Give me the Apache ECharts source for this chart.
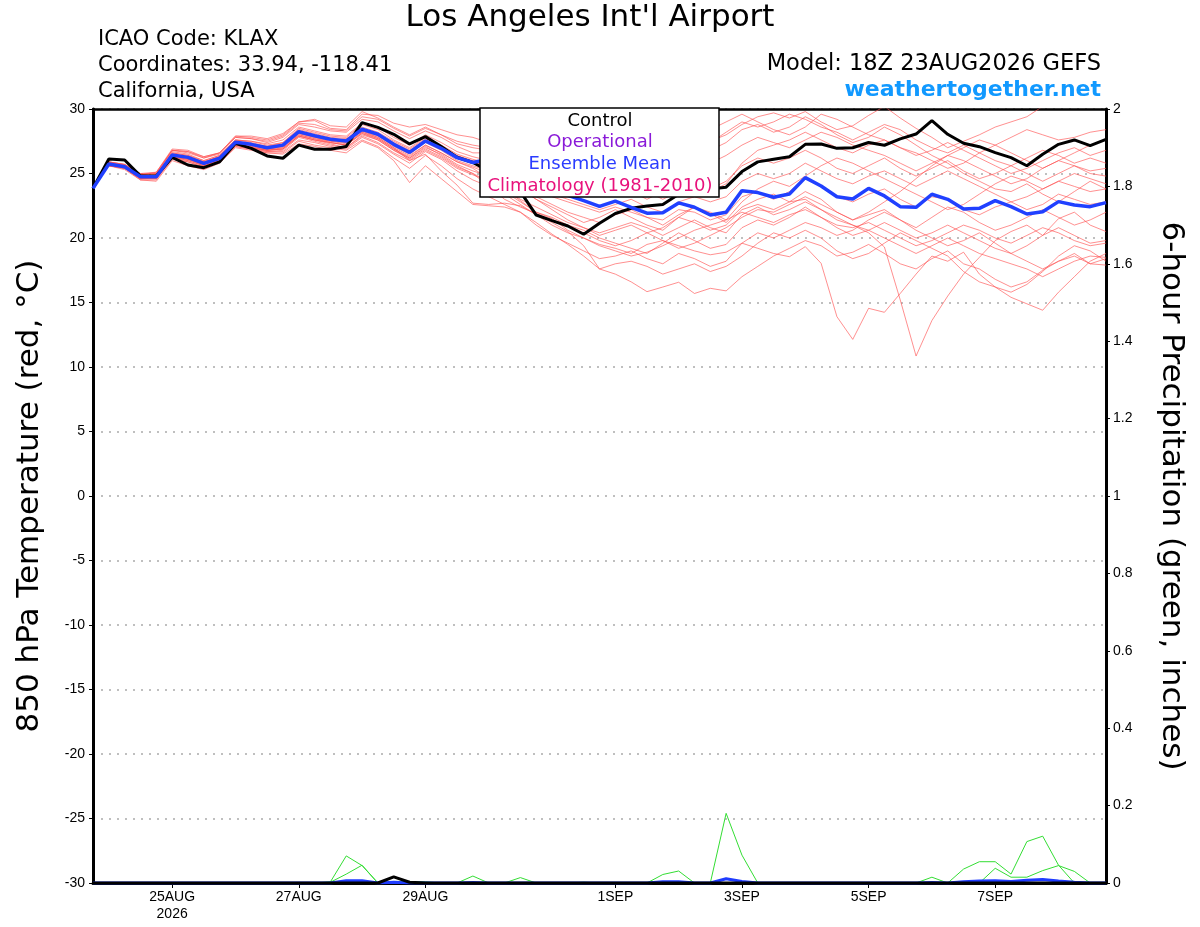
<!DOCTYPE html>
<html><head><meta charset="utf-8">
<script src="https://cdn.jsdelivr.net/npm/echarts@6/dist/echarts.min.js"></script>
<style>html,body{margin:0;padding:0;background:#fff}#c{width:1200px;height:927px}</style>
</head><body><div id="c"></div>
<script>
// time steps: 6-hourly from 18Z 23AUG2026 (index 0) to 18Z 08SEP2026 (index 64)
const tickIdx = [5, 13, 21, 33, 41, 49, 57];
const tickLabels = ['25AUG\n2026', '27AUG', '29AUG', '1SEP', '3SEP', '5SEP', '7SEP'];
const tempTicks = [-30, 30, 5];
const precipTicks = [0, 2, 0.2];

const control = [23.85,26.12,26.05,24.8,24.8,26.25,25.66,25.45,25.9,27.34,
 26.95,26.36,26.18,27.2,26.88,26.88,27.1,28.94,28.58,28.04,
 27.29,27.86,27.09,26.26,25.85,25.2,24.5,23.6,21.78,21.35,
 20.93,20.29,21.14,21.9,22.3,22.48,22.6,23.4,23.6,23.8,
 23.94,25.15,25.9,26.1,26.3,27.26,27.29,26.95,27.0,27.4,
 27.19,27.68,28.06,29.1,28.04,27.34,27.08,26.62,26.23,25.6,
 26.49,27.26,27.6,27.16,27.65];

const ensMean = [23.85,25.74,25.53,24.75,24.75,26.43,26.25,25.79,26.18,27.42,
 27.26,27.0,27.2,28.24,27.93,27.65,27.52,28.43,28.04,27.26,
 26.64,27.52,26.95,26.23,25.85,26.1,25.5,24.9,24.3,23.8,
 23.3,22.9,22.45,22.86,22.38,21.92,21.95,22.72,22.38,21.78,
 22.0,23.67,23.52,23.16,23.41,24.68,24.03,23.2,23.02,23.85,
 23.26,22.43,22.38,23.39,23.0,22.25,22.3,22.9,22.43,21.86,
 22.04,22.82,22.56,22.43,22.74];

const m01 = [23.9,25.8,25.6,24.9,25.0,26.8,26.6,26.2,26.6,27.9,27.8,27.6,28.0,29.0,29.1,28.5,28.4,29.6,29.5,28.9,28.6,28.8,28.4,28.0,27.8,
 27.4,27.0,26.5,26.8,27.2,26.9,26.5,26.0,26.4,26.8,27.2,26.5,26.0,26.8,27.5,28.0,28.8,29.4,29.7,29.3,
 29.8,29.0,28.4,28.7,29.5,30.2,29.3,28.5,27.8,27.0,27.5,28.0,28.6,29.0,29.4,30.2,30.8,31.0,30.5,30.8];
const m02 = [23.9,25.6,25.4,24.6,24.6,26.2,26.0,25.6,26.0,27.2,27.0,26.8,26.9,27.9,27.6,27.3,27.0,28.0,27.6,26.8,26.2,27.0,26.5,25.7,25.2,
 24.8,24.4,23.8,23.2,22.6,22.0,21.6,21.2,21.8,22.2,21.6,21.0,21.8,22.4,21.9,21.2,22.4,23.0,23.4,22.8,
 23.0,22.2,21.4,21.0,20.4,19.3,15.2,10.85,13.6,15.5,17.2,18.5,19.8,20.5,21.0,20.2,21.5,22.0,21.0,20.5];
const m03 = [23.9,25.7,25.5,24.7,24.8,26.4,26.2,25.7,26.1,27.3,27.1,26.9,27.0,28.0,27.7,27.5,27.3,28.2,27.8,27.0,26.4,27.2,26.6,25.9,25.4,
 24.6,23.8,22.9,22.0,21.5,20.6,20.0,19.5,19.2,18.8,19.5,19.8,19.4,19.0,18.7,18.9,19.6,19.2,18.8,18.55,
 19.33,18.04,13.9,12.14,14.55,14.24,15.7,17.2,18.6,18.2,18.9,17.2,16.2,15.4,14.9,14.4,15.8,17.0,18.2,18.8];
const m04 = [23.9,25.6,25.3,24.5,24.4,26.0,25.6,25.3,25.8,27.0,26.8,26.6,26.5,27.3,27.1,26.8,26.6,27.5,27.0,26.0,24.3,25.6,24.6,23.6,22.6,
 22.5,22.4,22.0,21.2,20.3,19.5,18.6,17.6,17.2,16.6,15.84,16.2,16.57,15.7,16.1,15.9,17.0,17.8,18.6,19.2,
 19.8,19.4,18.6,18.9,19.5,18.8,18.0,17.6,18.4,19.0,18.0,17.6,16.8,16.2,16.6,17.5,18.2,18.8,18.0,17.9];
const m05 = [23.9,25.8,25.6,24.8,24.9,26.5,26.3,25.9,26.3,27.4,27.2,26.9,27.1,28.1,27.8,27.5,27.4,28.3,27.8,27.0,26.0,26.5,25.2,24.1,22.7,
 22.6,22.7,22.5,21.8,21.2,20.5,19.4,17.6,18.0,18.2,17.8,17.2,17.6,18.0,17.4,17.8,18.6,19.6,20.4,20.0,
 20.6,20.0,19.0,18.4,18.8,19.6,20.4,19.8,19.2,18.6,17.4,16.6,16.2,15.8,16.4,17.4,18.6,19.4,19.0,18.2];
const m06 = [23.9,25.7,25.5,24.6,24.7,26.3,26.1,25.7,26.0,27.3,27.0,26.8,26.9,27.9,27.6,27.4,27.2,28.2,27.7,26.9,26.2,27.1,26.4,25.6,25.0,
 24.0,23.0,22.4,21.9,21.4,21.0,20.6,20.0,19.6,19.2,18.8,19.6,20.4,19.8,19.2,19.5,20.8,21.4,21.0,21.6,
 22.4,21.6,20.8,20.2,20.6,21.2,20.6,20.0,20.4,21.0,20.4,19.8,19.2,18.8,19.4,20.2,20.8,20.2,19.6,19.8];
const m07 = [23.9,25.9,25.7,24.9,25.0,26.7,26.5,26.0,26.4,27.6,27.5,27.3,27.6,28.6,28.3,28.0,27.9,28.9,28.6,27.8,27.2,28.0,27.4,26.7,26.3,
 26.0,25.6,25.0,25.4,25.8,25.2,24.8,24.4,25.0,25.6,26.0,25.4,24.8,25.2,25.8,26.4,27.2,27.8,27.4,27.0,
 27.6,28.2,27.8,27.2,26.8,26.4,25.8,25.2,25.8,26.4,26.0,25.4,24.8,24.2,24.6,25.4,26.0,25.6,25.0,24.8];
const m08 = [23.9,25.8,25.7,24.9,25.1,26.8,26.7,26.3,26.6,27.8,27.7,27.4,27.8,28.8,28.6,28.3,28.2,29.2,29.0,28.3,27.7,28.3,27.8,27.1,26.6,
 26.6,26.2,25.8,26.2,26.8,27.4,27.0,26.4,26.8,27.4,27.0,26.4,27.0,27.8,28.4,29.0,29.6,29.0,28.4,28.0,
 28.6,29.6,29.2,28.6,28.0,27.6,27.0,26.6,26.0,25.4,25.8,26.6,27.2,27.8,28.4,28.0,27.6,27.8,28.2,28.4];
const m09 = [23.9,25.7,25.5,24.7,24.8,26.5,26.3,25.8,26.2,27.5,27.3,27.0,27.2,28.3,28.0,27.7,27.6,28.5,28.1,27.3,26.7,27.6,27.0,26.3,25.9,
 25.6,25.0,24.4,23.8,23.2,22.8,22.4,22.0,22.4,22.0,21.6,21.4,22.2,22.0,21.4,21.8,23.2,23.6,23.0,23.6,
 24.6,24.0,23.2,22.8,23.4,23.8,23.0,22.4,23.2,23.0,22.2,21.8,22.4,22.8,22.2,22.6,23.4,23.0,22.6,22.8];
const m10 = [23.9,25.6,25.4,24.6,24.6,26.3,26.0,25.6,26.0,27.2,27.0,26.8,26.9,27.9,27.6,27.4,27.2,28.1,27.7,26.9,26.3,27.2,26.6,25.9,25.5,
 25.0,24.4,23.8,23.0,22.4,21.8,21.2,21.6,22.2,21.6,21.0,20.6,21.6,22.4,22.0,21.4,22.8,23.8,24.4,24.0,
 24.8,25.6,26.2,25.8,25.2,24.6,24.0,23.4,22.8,22.2,22.6,23.4,24.2,24.8,24.4,23.8,24.4,25.0,24.6,24.2];
const m11 = [23.9,25.8,25.6,24.8,24.7,26.4,26.2,25.8,26.2,27.4,27.2,26.9,27.1,28.1,27.8,27.6,27.4,28.3,27.9,27.1,26.5,27.4,26.8,26.0,25.6,
 25.2,24.6,23.8,23.0,22.2,21.4,20.8,20.2,20.6,21.0,20.4,20.8,21.6,21.2,20.6,21.0,22.2,22.6,22.2,22.8,
 23.6,23.0,22.0,21.4,21.8,22.2,21.4,20.6,20.0,19.4,19.8,20.4,19.6,18.8,18.2,17.6,18.2,18.6,18.0,18.4];
const m12 = [23.9,25.9,25.6,24.8,24.9,26.6,26.4,25.9,26.3,27.6,27.4,27.1,27.4,28.4,28.1,27.8,27.7,28.6,28.2,27.5,26.9,27.7,27.1,26.4,26.0,
 25.8,25.3,24.8,24.4,24.8,24.4,23.8,23.4,23.8,24.2,23.6,23.0,23.6,24.2,23.8,24.4,25.6,26.2,25.8,26.2,
 26.8,26.2,25.4,25.0,25.6,26.2,25.4,24.8,25.4,26.0,25.2,24.6,25.0,25.6,25.0,24.4,25.0,25.6,25.2,25.4];
const m13 = [23.9,25.7,25.4,24.6,24.7,26.3,26.1,25.6,26.0,27.2,27.0,26.7,26.8,27.8,27.5,27.2,27.0,27.9,27.4,26.6,26.0,26.8,26.2,25.4,24.9,
 24.4,23.6,22.8,22.0,21.6,21.0,20.4,19.8,19.4,19.8,20.4,19.8,19.2,19.6,20.2,20.8,21.6,22.2,22.0,22.6,
 23.2,22.6,22.0,21.4,22.0,22.8,23.6,24.6,25.6,26.4,27.0,27.6,27.2,26.6,26.0,25.4,26.0,26.6,27.2,27.6];
const m14 = [23.9,25.9,25.7,25.0,25.1,26.9,26.8,26.3,26.6,27.9,27.9,27.7,28.1,29.0,29.2,28.7,28.6,29.8,29.3,28.6,28.0,28.6,28.0,27.5,27.2,
 27.0,26.6,26.0,25.6,25.2,24.8,25.4,26.0,25.6,25.0,24.6,25.2,25.8,26.4,26.8,27.4,28.4,28.8,28.2,28.6,
 29.4,28.8,28.0,27.4,27.8,28.6,28.0,27.2,26.4,25.8,25.0,24.4,23.8,23.6,24.2,23.4,22.8,23.6,24.4,23.8];
const m15 = [23.9,25.6,25.4,24.5,24.5,26.1,25.9,25.5,25.9,27.1,26.9,26.7,26.7,27.6,27.4,27.1,26.9,27.8,27.3,26.5,25.8,26.7,26.1,25.2,24.5,
 24.0,23.4,22.6,21.8,21.0,20.4,20.0,19.4,19.0,18.6,18.9,19.4,20.0,20.6,21.0,21.4,22.0,21.6,21.2,21.8,
 22.2,21.6,21.0,20.8,21.2,20.6,20.0,19.4,19.8,20.4,21.0,20.6,20.0,19.6,20.2,20.8,20.4,19.8,19.4,19.6];
const m16 = [23.9,25.8,25.6,24.8,24.8,26.6,26.4,26.0,26.4,27.6,27.5,27.2,27.4,28.5,28.2,27.9,27.8,28.8,28.4,27.6,27.0,27.8,27.2,26.5,26.1,
 25.8,25.4,24.8,24.2,23.8,23.4,23.8,24.4,24.0,23.6,23.0,23.6,24.4,24.0,23.6,24.2,25.8,26.8,27.2,27.6,
 28.2,27.6,27.0,26.6,27.2,27.6,27.0,26.4,26.8,27.4,26.8,26.2,25.6,25.0,25.4,26.0,26.6,27.0,26.4,26.8];
const m17 = [23.9,25.7,25.5,24.6,24.6,26.2,25.9,25.5,25.9,27.1,26.9,26.6,26.6,27.5,27.2,27.0,26.8,27.6,27.1,26.2,25.4,26.4,25.6,24.6,23.8,
 23.2,22.6,22.0,21.0,20.2,19.6,19.0,18.4,18.6,19.0,18.4,18.0,18.8,18.4,17.8,18.2,19.6,20.4,20.0,20.6,
 21.2,20.8,20.2,20.6,21.4,22.0,21.4,20.8,21.6,22.4,22.0,21.2,20.6,21.0,21.6,22.2,21.6,21.0,21.4,22.0];
const m18 = [23.9,25.8,25.6,24.8,24.8,26.5,26.3,25.9,26.3,27.5,27.3,27.1,27.3,28.3,28.0,27.7,27.6,28.5,28.1,27.4,26.8,27.6,27.0,26.3,25.9,
 25.6,25.2,24.6,24.0,23.4,23.0,22.6,22.2,22.6,23.0,22.4,22.0,22.8,23.2,22.8,23.2,24.4,25.0,24.6,25.0,
 25.8,25.2,24.6,24.2,24.8,25.2,24.6,24.0,24.6,25.2,24.6,24.0,23.4,22.8,23.2,23.8,24.4,24.0,23.6,23.8];
const m19 = [23.9,25.6,25.5,24.7,24.7,26.3,26.1,25.7,26.1,27.3,27.1,26.8,27.0,28.0,27.7,27.4,27.2,28.1,27.6,26.8,26.1,26.9,26.3,25.5,25.0,
 24.4,23.8,23.0,22.4,21.8,21.2,20.8,20.4,20.8,21.2,20.8,20.2,20.8,21.4,20.8,20.4,21.8,22.4,21.8,22.2,
 22.8,22.2,21.6,21.0,20.6,20.0,19.4,18.8,19.4,20.0,19.4,18.8,18.4,18.0,17.6,17.0,17.6,18.2,18.6,18.5];
const m20 = [23.9,25.9,25.7,25.0,25.0,26.8,26.7,26.2,26.5,27.8,27.7,27.5,27.9,28.9,28.8,28.4,28.3,29.4,29.2,28.5,27.9,28.5,28.0,27.3,27.0,
 26.8,26.4,26.0,25.6,26.0,26.4,26.0,25.4,25.8,26.4,26.0,25.6,26.2,26.8,27.4,28.2,29.0,28.6,29.0,29.6,
 29.2,28.6,28.2,27.6,28.2,28.8,28.4,27.6,27.0,26.6,27.2,26.6,26.0,25.6,26.2,26.8,26.4,25.8,26.2,25.8];
const members = [m01,m02,m03,m04,m05,m06,m07,m08,m09,m10,m11,m12,m13,m14,m15,m16,m17,m18,m19,m20];

// 6-hour precipitation (inches)
const pA = [0,0,0,0,0,0,0,0,0,0, 0,0,0,0,0,0.003,0.07,0.045,0,0, 0,0,0,0,0,0,0,0,0,0, 0,0,0,0,0,0,0,0,0,0, 0,0,0,0,0,0,0,0,0,0, 0,0,0,0,0,0,0,0,0,0, 0,0,0,0,0];
const pB = [0,0,0,0,0,0,0,0,0,0, 0,0,0,0,0,0.002,0.023,0.046,0,0, 0,0,0,0,0,0,0,0,0,0, 0,0,0,0,0,0,0.022,0.031,0,0, 0,0,0,0,0,0,0,0,0,0, 0,0,0,0,0,0,0,0,0,0, 0,0,0,0,0];
const pC = [0,0,0,0,0,0,0,0,0,0, 0,0,0,0,0,0,0,0,0,0, 0,0,0,0,0.018,0,0,0,0,0, 0,0,0,0,0,0,0,0,0,0, 0.18,0.072,0,0,0,0,0,0,0,0, 0,0,0,0,0,0,0,0,0,0, 0,0,0,0,0];
const pD = [0,0,0,0,0,0,0,0,0,0, 0,0,0,0,0,0,0,0,0,0, 0,0,0,0,0,0,0,0.014,0,0, 0,0,0,0,0,0,0,0,0,0, 0,0,0,0,0,0,0,0,0,0, 0,0,0,0.015,0,0,0,0,0,0, 0,0,0,0,0];
const pE = [0,0,0,0,0,0,0,0,0,0, 0,0,0,0,0,0,0,0,0,0, 0,0,0,0,0,0,0,0,0,0, 0,0,0,0,0,0,0,0,0,0, 0,0,0,0,0,0,0,0,0,0, 0,0,0,0,0,0.036,0.055,0.055,0.023,0.107, 0.121,0.046,0,0,0];
const pF = [0,0,0,0,0,0,0,0,0,0, 0,0,0,0,0,0,0,0,0,0, 0,0,0,0,0,0,0,0,0,0, 0,0,0,0,0,0,0,0,0,0, 0,0,0,0,0,0,0,0,0,0, 0,0,0,0,0,0,0,0.038,0.015,0.015, 0.032,0.045,0.03,0,0];
const pG = [0,0,0,0,0,0,0,0,0,0, 0,0,0,0,0,0,0,0,0,0.004, 0.004,0.003,0,0,0,0,0,0,0,0, 0,0.002,0,0.001,0,0,0,0,0,0, 0,0,0,0,0,0,0,0,0,0, 0,0,0,0,0,0,0,0,0,0, 0,0,0,0,0];
const precipMembers = [pA,pB,pC,pD,pE,pF,pG];
const precipControl = [0,0,0,0,0,0,0,0,0,0, 0,0,0,0,0,0,0,0,0,0.016, 0.002,0,0,0,0,0,0,0,0,0, 0,0,0,0,0,0,0,0,0,0, 0,0,0,0,0,0,0,0,0,0, 0,0,0,0,0,0,0,0,0,0, 0,0,0,0,0];
const precipMean = [0,0,0,0,0,0,0,0,0,0, 0,0,0,0,0,0,0.006,0.006,0,0.002, 0,0,0,0,0.001,0,0,0,0,0, 0,0,0,0,0,0,0.003,0.003,0,0, 0.011,0.004,0,0,0,0,0,0,0,0, 0,0,0,0.001,0,0.003,0.005,0.006,0.004,0.007, 0.009,0.005,0.002,0,0];

const toXY = arr => arr.map((v, i) => [i, v]);
const FONT = '"Liberation Sans", Arial, sans-serif';
const WIDE = '"DejaVu Sans", sans-serif';

const series = [];
members.forEach((m, k) => series.push({
  type: 'line', name: 'member' + (k + 1), data: toXY(m), yAxisIndex: 0,
  symbol: 'none', lineStyle: { color: '#ff5050', width: 0.8, opacity: 0.8 }, z: 2, silent: true
}));
precipMembers.forEach((p, k) => series.push({
  type: 'line', name: 'precip' + (k + 1), data: toXY(p), yAxisIndex: 1,
  symbol: 'none', lineStyle: { color: '#33dd33', width: 1 }, z: 3, silent: true
}));
series.push({ type: 'line', name: 'Precip Mean', data: toXY(precipMean), yAxisIndex: 1,
  symbol: 'none', lineStyle: { color: '#1f3cff', width: 3 }, z: 4 });
series.push({ type: 'line', name: 'Precip Control', data: toXY(precipControl), yAxisIndex: 1,
  symbol: 'none', lineStyle: { color: '#000', width: 3 }, z: 4 });
series.push({ type: 'line', name: 'Control', data: toXY(control), yAxisIndex: 0,
  symbol: 'none', lineStyle: { color: '#000', width: 3 }, z: 5 });
series.push({ type: 'line', name: 'Ensemble Mean', data: toXY(ensMean), yAxisIndex: 0,
  symbol: 'none', lineStyle: { color: '#2040ff', width: 3.5 }, z: 6 });

const chart = echarts.init(document.getElementById('c'), null, { renderer: 'canvas' });
chart.setOption({
  animation: false,
  backgroundColor: '#fff',
  textStyle: { fontFamily: FONT },
  grid: { left: 93, right: 94, top: 109, bottom: 44 },
  xAxis: [{
    type: 'value', min: 0, max: 64, position: 'bottom', splitLine: { show: false },
    axisLine: { onZero: false, lineStyle: { color: '#000', width: 3 } },
    axisTick: { customValues: tickIdx, length: 5, inside: false, lineStyle: { color: '#000', width: 1 } },
    axisLabel: { customValues: tickIdx, color: '#000', fontSize: 14, fontFamily: FONT, lineHeight: 17, margin: 6,
      formatter: v => tickLabels[tickIdx.indexOf(v)] || '' }
  }, {
    type: 'value', min: 0, max: 64, position: 'top', splitLine: { show: false },
    axisLine: { onZero: false, lineStyle: { color: '#000', width: 2.5 } },
    axisTick: { show: false }, axisLabel: { show: false }
  }],
  yAxis: [
    { type: 'value', min: tempTicks[0], max: tempTicks[1], interval: tempTicks[2], position: 'left',
      name: '850 hPa Temperature (red, °C)', nameLocation: 'middle', nameGap: 48, nameRotate: 90,
      nameTextStyle: { fontSize: 31, color: '#000', fontFamily: WIDE },
      axisLine: { show: true, onZero: false, lineStyle: { color: '#000', width: 3 } },
      axisTick: { show: true, length: 4, lineStyle: { color: '#000' } },
      axisLabel: { color: '#000', fontSize: 14, fontFamily: FONT, margin: 8 },
      splitLine: { show: true, lineStyle: { color: '#aaa', type: [2, 6], width: 1.5 } } },
    { type: 'value', min: precipTicks[0], max: precipTicks[1], interval: precipTicks[2], position: 'right',
      name: '6-hour Precipitation (green, inches)', nameLocation: 'middle', nameGap: 50, nameRotate: -90,
      nameTextStyle: { fontSize: 31, color: '#000', fontFamily: WIDE },
      axisLine: { show: true, onZero: false, lineStyle: { color: '#000', width: 3 } },
      axisTick: { show: true, length: 4, lineStyle: { color: '#000' } },
      axisLabel: { color: '#000', fontSize: 14, fontFamily: FONT, margin: 7 },
      splitLine: { show: false } }
  ],
  series: series,
  graphic: [
    { type: 'text', x: 590, y: 18, style: { text: "Los Angeles Int'l Airport", font: '31px ' + WIDE, fill: '#000', align: 'center', verticalAlign: 'middle' } },
    { type: 'text', x: 98, y: 40, style: { text: 'ICAO Code: KLAX', font: '21px ' + WIDE, fill: '#000', verticalAlign: 'middle' } },
    { type: 'text', x: 98, y: 66, style: { text: 'Coordinates: 33.94, -118.41', font: '21px ' + WIDE, fill: '#000', verticalAlign: 'middle' } },
    { type: 'text', x: 98, y: 92, style: { text: 'California, USA', font: '21px ' + WIDE, fill: '#000', verticalAlign: 'middle' } },
    { type: 'text', x: 1101, y: 64, style: { text: 'Model: 18Z 23AUG2026 GEFS', font: '22.5px ' + WIDE, fill: '#000', align: 'right', verticalAlign: 'middle' } },
    { type: 'text', x: 1101, y: 90, style: { text: 'weathertogether.net', font: 'bold 22px ' + WIDE, fill: '#1199ff', align: 'right', verticalAlign: 'middle' } },
    { type: 'group', x: 480, y: 108, z: 100, children: [
      { type: 'rect', shape: { x: 0, y: 0, width: 239, height: 89 }, style: { fill: '#fff', stroke: '#000', lineWidth: 1.5 }, z: 100 },
      { type: 'text', x: 120, y: 13, style: { text: 'Control', font: '18px ' + WIDE, fill: '#000', align: 'center', verticalAlign: 'middle' }, z: 101 },
      { type: 'text', x: 120, y: 34, style: { text: 'Operational', font: '18px ' + WIDE, fill: '#8a1ad8', align: 'center', verticalAlign: 'middle' }, z: 101 },
      { type: 'text', x: 120, y: 56, style: { text: 'Ensemble Mean', font: '18px ' + WIDE, fill: '#2a3cff', align: 'center', verticalAlign: 'middle' }, z: 101 },
      { type: 'text', x: 120, y: 78, style: { text: 'Climatology (1981-2010)', font: '18px ' + WIDE, fill: '#e8127c', align: 'center', verticalAlign: 'middle' }, z: 101 }
    ] }
  ]
});
</script>
</body></html>
